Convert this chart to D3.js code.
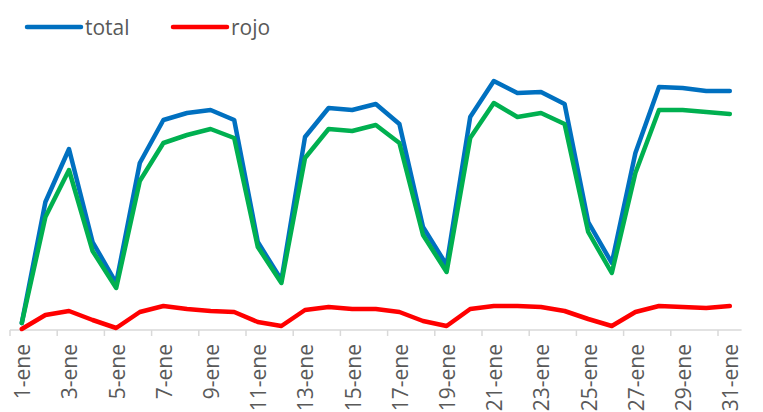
<!DOCTYPE html>
<html>
<head>
<meta charset="utf-8">
<script src="https://cdn.jsdelivr.net/npm/d3@7"></script>
<style>
  body { margin: 0; background: #fff; }
  svg text { font-family: "Open Sans", sans-serif; fill: #595959; }
</style>
</head>
<body>
<div id="chart"></div>
<script>
// days of January
const days = d3.range(1, 32).map(d => d + "-ene");

// series (chart units)
const total = [7, 128, 181, 88, 47, 167, 210, 217, 220, 210, 88, 50, 193, 222, 220, 226, 206, 103, 65, 213, 249, 237, 238, 226, 108, 67, 177, 243, 242, 239, 239];
const verde = [7, 113, 160, 79, 42, 149, 187, 195, 201, 192, 83, 47, 172, 201, 199, 205, 187, 95, 58, 192, 227, 213, 217, 206, 98, 57, 157, 220, 220, 218, 216];
const rojo  = [1, 15, 19, 10, 2, 18, 24, 21, 19, 18, 8, 4, 20, 23, 21, 21, 18, 9, 4, 21, 24, 24, 23, 19, 11, 4, 18, 24, 23, 22, 24];

const legendItems = [
  { name: "total", color: "#0070C0" },
  { name: "rojo", color: "#FF0000" }
];

const W = 763, H = 412;
const svg = d3.select("#chart").append("svg")
  .attr("width", W).attr("height", H);

// scales
const x = d3.scaleBand().domain(days).range([10, 741.6]).padding(0);
const y = d3.scaleLinear().domain([0, 300]).range([330, 30]);
const cx = d => x(d) + x.bandwidth() / 2;

// axis line
svg.append("line")
  .attr("x1", 10).attr("x2", 741.6)
  .attr("y1", y(0)).attr("y2", y(0))
  .attr("stroke", "#d9d9d9").attr("stroke-width", 1.5);

// tick marks between categories, every 2
svg.selectAll(".tick-mark")
  .data(days.filter((d, i) => i % 2 === 0))
  .enter().append("line")
  .attr("class", "tick-mark")
  .attr("x1", d => x(d)).attr("x2", d => x(d))
  .attr("y1", y(0)).attr("y2", y(0) + 6)
  .attr("stroke", "#d9d9d9").attr("stroke-width", 1.5);

// tick labels
svg.selectAll(".tick-label")
  .data(days.filter((d, i) => i % 2 === 0))
  .enter().append("text")
  .attr("class", "tick-label")
  .attr("transform", d => "translate(" + (cx(d) + 1) + "," + 344 + ") rotate(-90)")
  .attr("text-anchor", "end")
  .attr("dy", "0.35em")
  .style("font-size", "21px")
  .text(d => d);

// lines
const line = d3.line()
  .x((v, i) => cx(days[i]))
  .y(v => y(v));

const series = [
  { values: total, color: "#0070C0" },
  { values: verde, color: "#00B050" },
  { values: rojo, color: "#FF0000" }
];

svg.selectAll(".series")
  .data(series)
  .enter().append("path")
  .attr("class", "series")
  .attr("d", s => line(s.values))
  .attr("fill", "none")
  .attr("stroke", s => s.color)
  .attr("stroke-width", 4.5)
  .attr("stroke-linejoin", "round")
  .attr("stroke-linecap", "round");

// legend
const lg = svg.selectAll(".legend")
  .data(legendItems)
  .enter().append("g")
  .attr("class", "legend")
  .attr("transform", (d, i) => "translate(" + (27 + i * 146) + ",27)");

lg.append("line")
  .attr("x1", 0).attr("x2", 54)
  .attr("y1", 0).attr("y2", 0)
  .attr("stroke", d => d.color)
  .attr("stroke-width", 4.5)
  .attr("stroke-linecap", "round");

lg.append("text")
  .attr("x", 58).attr("y", 8)
  .style("font-size", "21px")
  .text(d => d.name);
</script>
</body>
</html>
